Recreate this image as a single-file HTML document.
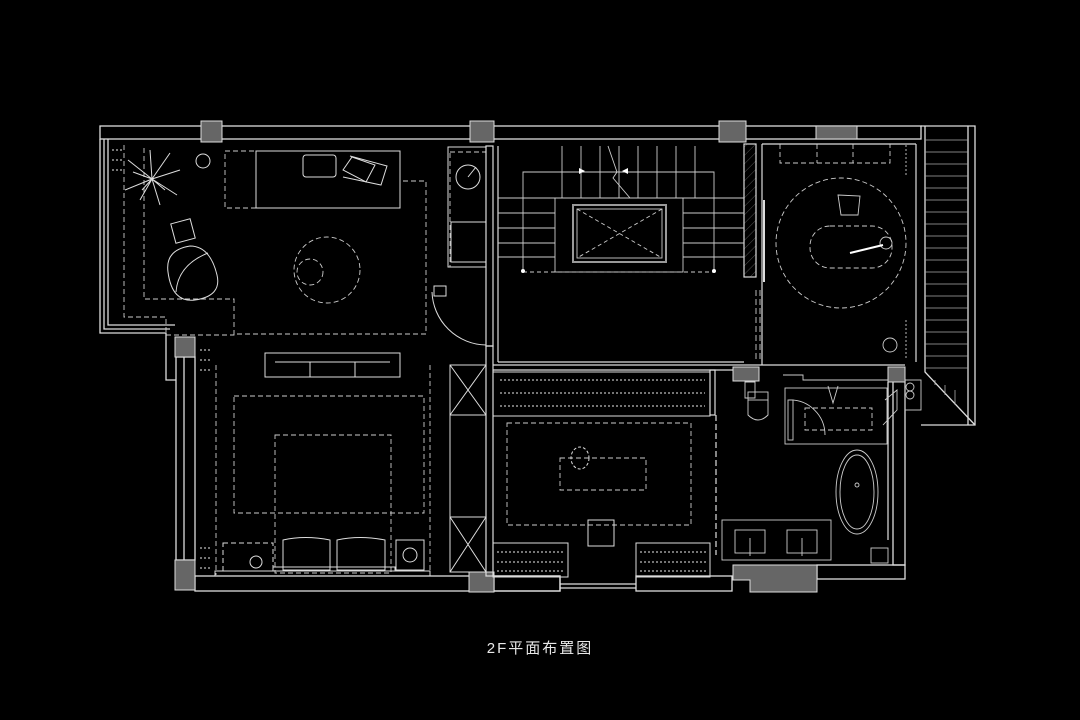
<!DOCTYPE html>
<html><head><meta charset="utf-8"><style>
html,body{margin:0;padding:0;background:#000;}
svg{display:block}
</style></head><body>
<svg width="1080" height="720" viewBox="0 0 1080 720" xmlns="http://www.w3.org/2000/svg">
<rect width="1080" height="720" fill="#000"/>
<defs>
<pattern id="h" width="6" height="6" patternUnits="userSpaceOnUse" patternTransform="rotate(45)"><line x1="0" y1="0" x2="0" y2="6" stroke="#555" stroke-width="1"/></pattern>
</defs>
<g fill="none" stroke="#ddd" stroke-width="1.3">
<!-- top wall -->
<rect x="100" y="126" width="821" height="13"/>
<!-- left wall -->
<path d="M100 139 V333 H166 V380 H176"/>
<path d="M104 139 V329 H170"/>
<path d="M108 139 V325 H175"/>
<rect x="176" y="357" width="19" height="203"/>
<line x1="184" y1="357" x2="184" y2="560"/>
<!-- bottom wall -->
<rect x="195" y="576" width="365" height="15"/>
<rect x="494" y="576" width="66" height="15"/>
<rect x="636" y="576" width="96" height="15"/>
<line x1="560" y1="584" x2="636" y2="584"/>
<line x1="560" y1="588" x2="636" y2="588"/>
<rect x="817" y="565" width="88" height="14"/>
<!-- right lower wall -->
<rect x="893" y="380" width="12" height="185"/>
<line x1="888" y1="382" x2="888" y2="540"/>
<!-- balcony right -->
<path d="M921 126 H975 V425 H921"/>
<path d="M925 126 V372 L975 425" />
<line x1="968" y1="126" x2="968" y2="425"/>
</g>
<!-- balcony hatching -->
<g stroke="#aaa" stroke-width="0.8">
<line x1="925" y1="140" x2="968" y2="140"/><line x1="925" y1="152" x2="968" y2="152"/><line x1="925" y1="164" x2="968" y2="164"/><line x1="925" y1="176" x2="968" y2="176"/><line x1="925" y1="188" x2="968" y2="188"/><line x1="925" y1="200" x2="968" y2="200"/><line x1="925" y1="212" x2="968" y2="212"/><line x1="925" y1="224" x2="968" y2="224"/><line x1="925" y1="236" x2="968" y2="236"/><line x1="925" y1="248" x2="968" y2="248"/><line x1="925" y1="260" x2="968" y2="260"/><line x1="925" y1="272" x2="968" y2="272"/><line x1="925" y1="284" x2="968" y2="284"/><line x1="925" y1="296" x2="968" y2="296"/><line x1="925" y1="308" x2="968" y2="308"/><line x1="925" y1="320" x2="968" y2="320"/><line x1="925" y1="332" x2="968" y2="332"/><line x1="925" y1="344" x2="968" y2="344"/><line x1="925" y1="356" x2="968" y2="356"/><line x1="925" y1="368" x2="968" y2="368"/>
<line x1="935" y1="380" x2="935" y2="385"/><line x1="945" y1="385" x2="945" y2="395"/><line x1="955" y1="390" x2="955" y2="405"/>
</g>
<!-- gray pillars -->
<g fill="#666" stroke="#ddd" stroke-width="1">
<rect x="201" y="121" width="21" height="21"/>
<rect x="470" y="121" width="24" height="21"/>
<rect x="719" y="121" width="27" height="21"/>
<rect x="816" y="126" width="41" height="13"/>
<rect x="175" y="337" width="20" height="20"/>
<rect x="175" y="560" width="20" height="30"/>
<rect x="469" y="572" width="25" height="20"/>
<path d="M733 565 H817 V592 H750 V580 H733 Z"/>
<rect x="733" y="367" width="26" height="14"/>
<rect x="888" y="367" width="17" height="15"/>
</g>
<!-- interior walls -->
<g fill="none" stroke="#ddd" stroke-width="1.2">
<rect x="486" y="146" width="7" height="200"/>
<rect x="486" y="346" width="7" height="230"/>
<line x1="493" y1="365" x2="905" y2="365"/>
<line x1="493" y1="370" x2="733" y2="370"/>
<rect x="744" y="144" width="12" height="133" fill="url(#h)"/>
<line x1="762" y1="144" x2="762" y2="365"/>
<line x1="764" y1="200" x2="764" y2="282" stroke-width="2"/>
<line x1="762" y1="144" x2="916" y2="144"/>
<line x1="916" y1="144" x2="916" y2="362"/>
<line x1="498" y1="146" x2="498" y2="362"/>
<line x1="498" y1="362" x2="744" y2="362"/>
<rect x="710" y="370" width="5" height="45"/>
<line x1="716" y1="415" x2="716" y2="555" stroke-dasharray="6 3"/>
</g>
<!-- stair -->
<g fill="none" stroke="#ccc" stroke-width="0.9">
<path d="M523 272 V172 H714 V272"/>
<line x1="498" y1="198" x2="744" y2="198"/>
<line x1="562" y1="146" x2="562" y2="198"/><line x1="581" y1="146" x2="581" y2="198"/><line x1="600" y1="146" x2="600" y2="198"/><line x1="619" y1="146" x2="619" y2="198"/><line x1="638" y1="146" x2="638" y2="198"/><line x1="657" y1="146" x2="657" y2="198"/><line x1="676" y1="146" x2="676" y2="198"/><line x1="695" y1="146" x2="695" y2="198"/>
<line x1="498" y1="213" x2="555" y2="213"/><line x1="498" y1="228" x2="555" y2="228"/><line x1="498" y1="243" x2="555" y2="243"/><line x1="498" y1="257" x2="555" y2="257"/>
<line x1="683" y1="213" x2="744" y2="213"/><line x1="683" y1="228" x2="744" y2="228"/><line x1="683" y1="243" x2="744" y2="243"/><line x1="683" y1="257" x2="744" y2="257"/>
<rect x="555" y="198" width="128" height="74"/>
<rect x="573" y="205" width="93" height="57" stroke="#999" stroke-width="2"/>
<rect x="577" y="209" width="85" height="49"/>
<line x1="577" y1="209" x2="662" y2="258" stroke-dasharray="4 3"/><line x1="662" y1="209" x2="577" y2="258" stroke-dasharray="4 3"/>
<path d="M608 146 L617 172 L613 178 L630 198"/>
<line x1="523" y1="272" x2="714" y2="272" stroke-dasharray="4 3"/>
</g>
<circle cx="523" cy="271" r="2" fill="#fff"/><circle cx="714" cy="271" r="2" fill="#fff"/>
<path d="M585 171 l-6 -3 v6 z M622 171 l6 -3 v6 z" fill="#fff"/>
<!-- living room -->
<g fill="none" stroke="#ccc" stroke-width="0.9" stroke-dasharray="5 3">
<path d="M124 145 V317 H166 V335 H234 V334 H426 V181 H400"/>
<path d="M144 148 V299 H234 V334"/>
<rect x="225" y="151" width="175" height="57"/>
<circle cx="327" cy="270" r="33"/>
<circle cx="310" cy="272" r="13"/>
<rect x="450" y="152" width="36" height="115"/>
<rect x="234" y="396" width="190" height="117"/>
<rect x="275" y="435" width="116" height="138"/>
<rect x="507" y="423" width="184" height="102"/>
<rect x="560" y="458" width="86" height="32"/>
<rect x="130" y="145" width="300" height="0"/>
<line x1="216" y1="365" x2="216" y2="575"/>
<line x1="430" y1="365" x2="430" y2="575"/>
</g>
<g fill="none" stroke="#ddd" stroke-width="1">
<rect x="256" y="151" width="144" height="57"/>
<rect x="303" y="155" width="33" height="22" rx="3"/>
<path d="M343 170 L352 157 L375 165 L366 182 Z"/>
<path d="M350 156 L387 166 L381 185 L343 177"/>
<rect x="173" y="221" width="20" height="20" transform="rotate(-15 183 231)"/>
<path d="M168 272 Q165 250 190 246 Q210 246 217 275 Q222 296 195 300 Q172 303 168 272 Z"/>
<path d="M176 292 Q178 265 208 253"/>
<rect x="265" y="353" width="135" height="24"/>
<line x1="275" y1="362" x2="390" y2="362"/><line x1="310" y1="362" x2="310" y2="377"/><line x1="355" y1="362" x2="355" y2="377"/>
<circle cx="468" cy="177" r="12"/>
<line x1="468" y1="177" x2="476" y2="167"/>
<rect x="448" y="147" width="38" height="120"/>
<rect x="451" y="222" width="35" height="40"/>
<path d="M432 292 A55 55 0 0 0 486 345"/>
<rect x="434" y="286" width="12" height="10"/>
<circle cx="203" cy="161" r="7"/>
<!-- plant -->
<path d="M152 179 L128 160 M152 179 L125 190 M152 179 L140 200 M152 179 L160 205 M152 179 L177 195 M152 179 L180 170 M152 179 L170 153 M152 179 L150 150 M152 179 L133 172 M152 179 L142 190 M152 179 L165 190"/>
<!-- bed -->
<path d="M283 540 Q305 535 330 540 V570 H283 Z"/><path d="M337 540 Q360 535 385 540 V570 H337 Z"/>
<rect x="273" y="567" width="122" height="4"/>
<rect x="396" y="540" width="28" height="30"/>
<circle cx="410" cy="555" r="7"/>
<rect x="223" y="543" width="50" height="28" stroke-dasharray="5 3"/>
<circle cx="256" cy="562" r="6"/>
<rect x="215" y="571" width="215" height="5"/>
<!-- wardrobes -->
<rect x="450" y="365" width="36" height="50"/><path d="M450 365 L486 415 M486 365 L450 415"/>
<rect x="450" y="517" width="36" height="55"/><path d="M450 517 L486 572 M486 517 L450 572"/>
<line x1="450" y1="415" x2="450" y2="517"/>
<!-- closet shelves -->
<rect x="493" y="372" width="217" height="44"/>
<rect x="493" y="543" width="75" height="34"/>
<rect x="636" y="543" width="74" height="34"/>
<rect x="588" y="520" width="26" height="26"/>
<ellipse cx="580" cy="458" rx="9" ry="11" stroke-dasharray="3 2"/>
</g>
<!-- shelves hatch pattern -->
<g stroke="#bbb" stroke-width="1.2" stroke-dasharray="2 2">
<line x1="500" y1="380" x2="705" y2="380"/><line x1="500" y1="393" x2="705" y2="393"/><line x1="500" y1="406" x2="705" y2="406"/>
<line x1="497" y1="552" x2="565" y2="552"/><line x1="497" y1="562" x2="565" y2="562"/><line x1="497" y1="571" x2="565" y2="571"/>
<line x1="640" y1="552" x2="706" y2="552"/><line x1="640" y1="562" x2="706" y2="562"/><line x1="640" y1="571" x2="706" y2="571"/>
<line x1="200" y1="350" x2="212" y2="350"/><line x1="200" y1="360" x2="212" y2="360"/><line x1="200" y1="370" x2="212" y2="370"/>
<line x1="200" y1="548" x2="212" y2="548"/><line x1="200" y1="558" x2="212" y2="558"/><line x1="200" y1="568" x2="212" y2="568"/>
<line x1="112" y1="150" x2="122" y2="150"/><line x1="112" y1="160" x2="122" y2="160"/><line x1="112" y1="170" x2="122" y2="170"/>
</g>
<!-- study room -->
<g fill="none" stroke="#ccc" stroke-width="0.9">
<circle cx="841" cy="243" r="65" stroke-dasharray="5 3"/>
<rect x="810" y="226" width="82" height="42" rx="20" stroke-dasharray="5 3"/>
<path d="M838 195 L860 196 L858 215 L841 215 Z"/>
<circle cx="886" cy="243" r="6"/>
<line x1="850" y1="253" x2="883" y2="245" stroke="#fff" stroke-width="2"/>
<path d="M780 144 V163 H890 V144 M817 144 V163 M853 144 V163" stroke-dasharray="5 3"/>
<circle cx="890" cy="345" r="7"/>
<line x1="906" y1="145" x2="906" y2="175" stroke-dasharray="2 2"/>
<line x1="906" y1="320" x2="906" y2="360" stroke-dasharray="2 2"/>
<line x1="760" y1="290" x2="760" y2="362" stroke-dasharray="6 3"/>
<line x1="756" y1="290" x2="756" y2="362" stroke-dasharray="6 3"/>
</g>
<!-- bathroom -->
<g fill="none" stroke="#ccc" stroke-width="0.9">
<path d="M745 382 H755 V398 H745 Z"/>
<rect x="748" y="392" width="20" height="8"/>
<path d="M748 400 V415 Q758 425 768 415 V400"/>
<path d="M783 375 H803 V380 H888"/>
<rect x="785" y="388" width="102" height="56"/>
<rect x="805" y="408" width="67" height="22" stroke-dasharray="5 3"/>
<path d="M828 386 L833 403 L838 386"/>
<path d="M789 400 A35 35 0 0 1 825 435"/>
<rect x="788" y="400" width="5" height="40"/>
<ellipse cx="857" cy="492" rx="21" ry="42"/>
<ellipse cx="857" cy="492" rx="17" ry="37"/>
<circle cx="857" cy="485" r="2"/>
<rect x="722" y="520" width="109" height="40"/>
<rect x="735" y="530" width="30" height="23"/><rect x="787" y="530" width="30" height="23"/>
<line x1="750" y1="538" x2="750" y2="556"/><line x1="802" y1="538" x2="802" y2="556"/>
<rect x="871" y="548" width="17" height="15"/>
<path d="M885 400 L897 390 L897 410 L883 425" />
<line x1="888" y1="444" x2="888" y2="540"/>
<circle cx="910" cy="387" r="4"/><circle cx="910" cy="395" r="4"/>
<rect x="905" y="380" width="16" height="30"/>
</g>
<text x="540" y="653" fill="#e8e8e8" font-size="15" text-anchor="middle" letter-spacing="2" font-family="'Liberation Sans','Noto Sans CJK SC',sans-serif">2F平面布置图</text>
</svg>
</body></html>
